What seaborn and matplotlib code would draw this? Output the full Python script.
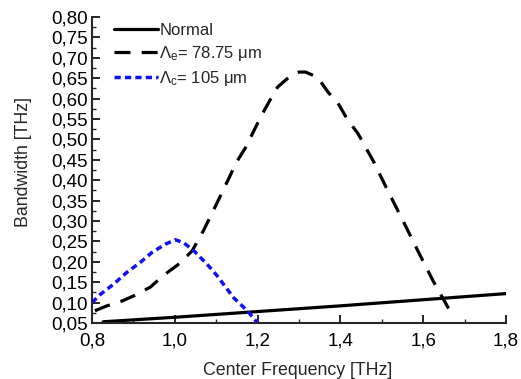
import numpy as np
import pandas as pd
import matplotlib
matplotlib.use('Agg')
import matplotlib.pyplot as plt
import seaborn as sns
from matplotlib.ticker import MultipleLocator, FuncFormatter

# --- data ---
normal_x = [0.827, 1.0, 1.2, 1.4, 1.6, 1.8]
normal_y = [0.053, 0.064, 0.078, 0.092, 0.107, 0.122]

le_x = [0.807, 0.836, 0.873, 0.904, 0.941, 0.972, 1.013, 1.042, 1.069, 1.10,
        1.135, 1.147, 1.171, 1.188, 1.207, 1.227, 1.248, 1.281, 1.30, 1.316,
        1.345, 1.370, 1.394, 1.418, 1.442, 1.481, 1.514, 1.551, 1.587, 1.624,
        1.660, 1.665]
le_y = [0.080, 0.092, 0.104, 0.118, 0.138, 0.166, 0.197, 0.227, 0.276, 0.340,
        0.414, 0.441, 0.480, 0.515, 0.554, 0.591, 0.628, 0.657, 0.665, 0.665,
        0.652, 0.616, 0.589, 0.547, 0.515, 0.444, 0.375, 0.301, 0.227, 0.153,
        0.088, 0.082]

lc_x = [0.80, 0.82, 0.852, 0.884, 0.916, 0.945, 0.977, 1.001, 1.021, 1.046,
        1.078, 1.102, 1.142, 1.175, 1.20]
lc_y = [0.100, 0.120, 0.145, 0.174, 0.198, 0.223, 0.243, 0.254, 0.247, 0.227,
        0.194, 0.166, 0.112, 0.080, 0.050]

sns.set_style('ticks')
plt.rcParams['font.family'] = ['Liberation Sans', 'DejaVu Sans']
plt.rcParams['mathtext.fontset'] = 'custom'
plt.rcParams['mathtext.rm'] = 'Liberation Sans'
plt.rcParams['mathtext.it'] = 'Liberation Sans:italic'

fig = plt.figure(figsize=(5.21, 3.79), dpi=100)
ax = fig.add_axes([0.1766, 0.1478, 0.7946, 0.8074])

sns.lineplot(x=normal_x, y=normal_y, ax=ax, color='black', linewidth=2.3,
             label='Normal')
sns.lineplot(x=le_x, y=le_y, ax=ax, color='black', linewidth=2.3,
             label=r'$\mathregular{\Lambda_e}$= 78.75 μm')
ax.lines[-1].set_dashes([5, 3.5])
sns.lineplot(x=lc_x, y=lc_y, ax=ax, color='#1010f5', linewidth=2.5,
             label=r'$\mathregular{\Lambda_c}$= 105 μm')
ax.lines[-1].set_dashes([1.8, 1.2])

ax.set_xlim(0.8, 1.8)
ax.set_ylim(0.05, 0.80)
ax.xaxis.set_major_locator(MultipleLocator(0.2))
ax.xaxis.set_minor_locator(MultipleLocator(0.1))
ax.yaxis.set_major_locator(MultipleLocator(0.05))
ax.yaxis.set_minor_locator(MultipleLocator(0.025))
ax.xaxis.set_major_formatter(FuncFormatter(lambda v, p: f'{v:.1f}'.replace('.', ',')))
ax.yaxis.set_major_formatter(FuncFormatter(lambda v, p: f'{v:.2f}'.replace('.', ',')))
ax.tick_params(which='major', direction='in', length=6, width=1.2, labelsize=13.5,
               colors='black', pad=3)
ax.tick_params(axis='x', which='major', pad=7)
ax.tick_params(which='minor', direction='in', length=3, width=1.0)
for s in ['left', 'bottom']:
    ax.spines[s].set_linewidth(1.5)
sns.despine(ax=ax)

ax.set_xlabel('Center Frequency [THz]', fontsize=12.8)
ax.set_ylabel('Bandwidth [THz]', fontsize=12.8)
ax.xaxis.set_label_coords(0.497, -0.127)
ax.yaxis.set_label_coords(-0.145, 0.526)

leg = ax.legend(loc='upper left', bbox_to_anchor=(0.03, 1.013), frameon=False,
                fontsize=12, handlelength=2.6, handletextpad=0.1,
                labelspacing=0.35, borderaxespad=0.2)

fig.savefig('out.png', dpi=100)
